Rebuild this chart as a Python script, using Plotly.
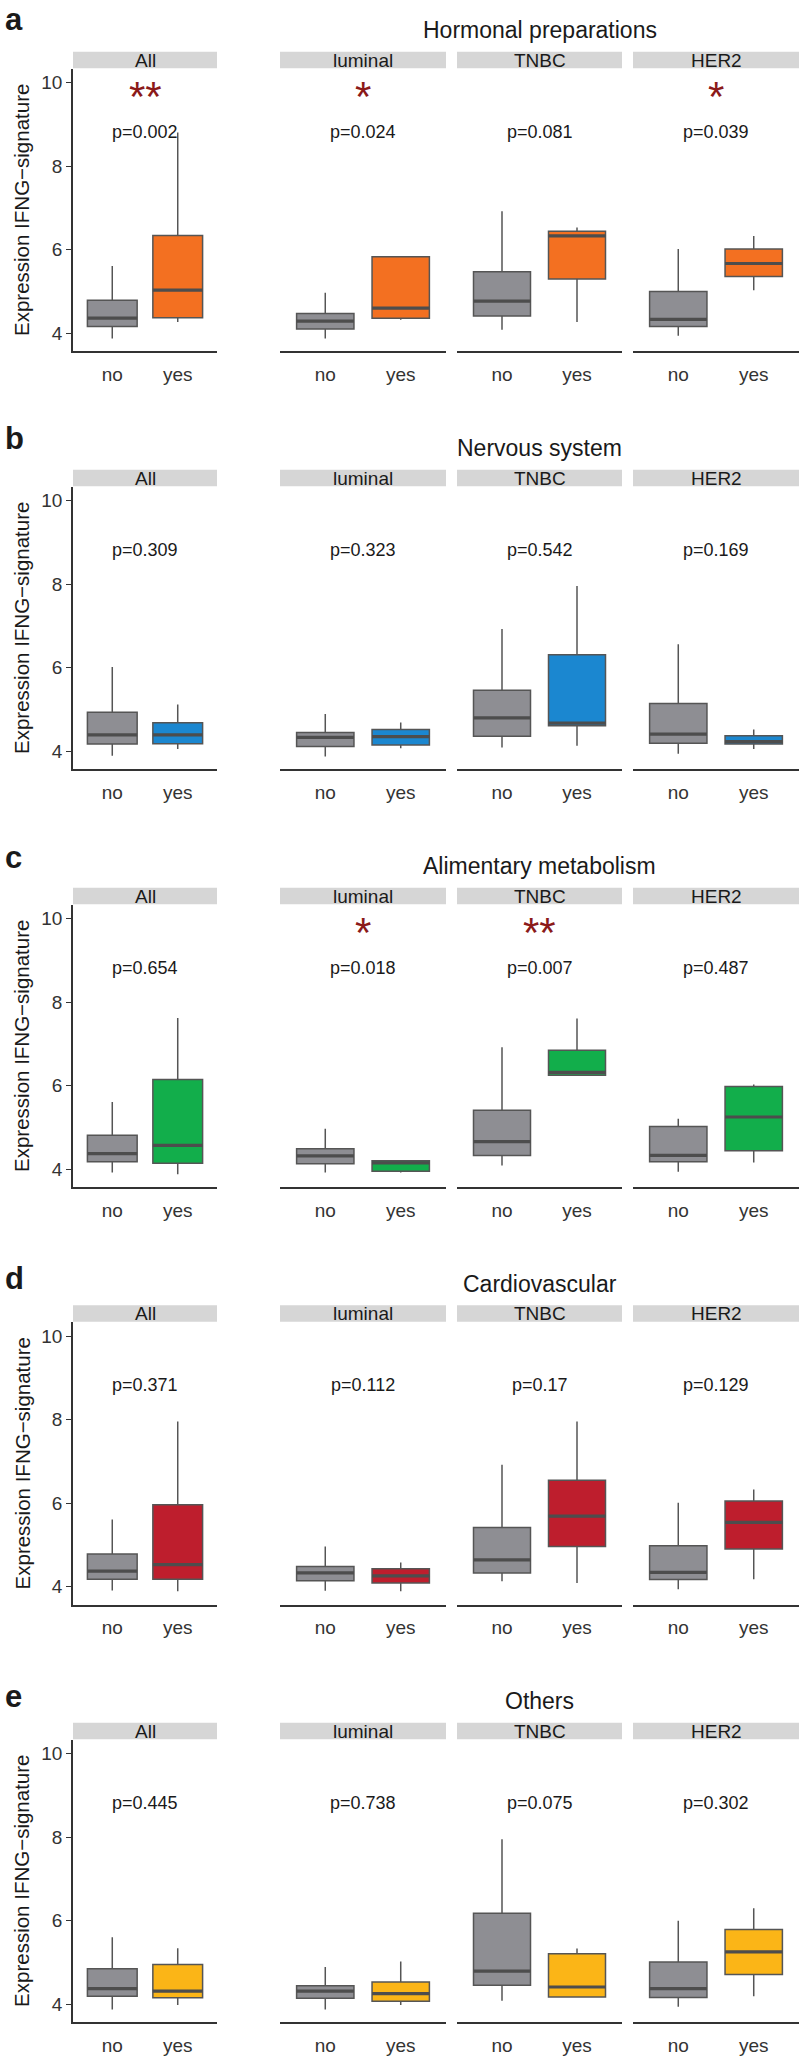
import plotly.graph_objects as go

# ---------------- data ----------------
subtypes = ["All", "luminal", "TNBC", "HER2"]
groups = ["no", "yes"]
panel_titles = ["Hormonal preparations", "Nervous system", "Alimentary metabolism",
                "Cardiovascular", "Others"]
panel_letters = ["a", "b", "c", "d", "e"]
yes_colors = ["#F37021", "#1B87D0", "#12AE4B", "#BE1E2D", "#FBB517"]
no_color = "#8E8E93"

# five-number summaries per subtype: [lower whisker, q1, median, q3, upper whisker]
hormonal_no = [[3.87, 4.16, 4.36, 4.79, 5.61], [3.87, 4.10, 4.29, 4.47, 4.97],
               [4.08, 4.41, 4.77, 5.47, 6.92], [3.94, 4.16, 4.33, 5.00, 6.02]]
hormonal_yes = [[4.27, 4.37, 5.03, 6.34, 8.81], [4.32, 4.36, 4.60, 5.83, 5.83],
                [4.27, 5.30, 6.33, 6.44, 6.53], [5.03, 5.36, 5.67, 6.02, 6.33]]
nervous_no = [[3.89, 4.17, 4.39, 4.93, 6.02], [3.87, 4.11, 4.33, 4.45, 4.89],
              [4.09, 4.36, 4.80, 5.46, 6.93], [3.94, 4.19, 4.41, 5.14, 6.56]]
nervous_yes = [[4.05, 4.18, 4.39, 4.68, 5.12], [4.07, 4.15, 4.35, 4.52, 4.69],
               [4.13, 4.61, 4.67, 6.31, 7.96], [4.05, 4.17, 4.23, 4.37, 4.52]]
alimentary_no = [[3.92, 4.18, 4.37, 4.81, 5.61], [3.92, 4.13, 4.32, 4.49, 4.97],
                 [4.09, 4.33, 4.66, 5.41, 6.92], [3.94, 4.18, 4.33, 5.02, 5.21]]
alimentary_yes = [[3.88, 4.14, 4.57, 6.15, 7.62], [3.92, 3.95, 4.15, 4.20, 4.22],
                  [6.25, 6.25, 6.32, 6.85, 7.61], [4.16, 4.44, 5.25, 5.98, 6.03]]
cardio_no = [[3.91, 4.18, 4.37, 4.78, 5.61], [3.90, 4.14, 4.33, 4.48, 4.96],
             [4.13, 4.33, 4.64, 5.42, 6.92], [3.94, 4.17, 4.34, 4.98, 6.01]]
cardio_yes = [[3.89, 4.18, 4.53, 5.96, 7.96], [3.89, 4.09, 4.26, 4.43, 4.58],
              [4.09, 4.96, 5.69, 6.55, 7.96], [4.18, 4.90, 5.54, 6.05, 6.33]]
others_no = [[3.87, 4.19, 4.37, 4.85, 5.60], [3.87, 4.14, 4.31, 4.44, 4.89],
             [4.08, 4.45, 4.79, 6.18, 7.95], [3.94, 4.16, 4.37, 5.01, 6.00]]
others_yes = [[3.98, 4.15, 4.31, 4.95, 5.34], [3.98, 4.07, 4.25, 4.53, 5.02],
              [4.17, 4.17, 4.41, 5.21, 5.33], [4.19, 4.71, 5.25, 5.79, 6.30]]

p_hormonal = ["0.002", "0.024", "0.081", "0.039"]
p_nervous = ["0.309", "0.323", "0.542", "0.169"]
p_alimentary = ["0.654", "0.018", "0.007", "0.487"]
p_cardio = ["0.371", "0.112", "0.17", "0.129"]
p_others = ["0.445", "0.738", "0.075", "0.302"]

stars_hormonal = ["**", "*", "", "*"]
stars_nervous = ["", "", "", ""]
stars_alimentary = ["", "*", "**", ""]
stars_cardio = ["", "", "", ""]
stars_others = ["", "", "", ""]

ytick_vals = [4, 6, 8, 10]
y_title = "Expression IFNG\u2212signature"

# ---------------- layout helpers ----------------
W, H = 800, 2056
FONT = "Liberation Sans, Arial, sans-serif"
panels = [
    (hormonal_no, hormonal_yes, p_hormonal, stars_hormonal),
    (nervous_no, nervous_yes, p_nervous, stars_nervous),
    (alimentary_no, alimentary_yes, p_alimentary, stars_alimentary),
    (cardio_no, cardio_yes, p_cardio, stars_cardio),
    (others_no, others_yes, p_others, stars_others),
]
offsets = [0, 419, 838, 1256.5, 1675]
letter_y = [20, 440, 860, 1282, 1701]
facet_x = [(73, 217), (280, 446), (457, 622), (633, 799)]
STRIP_TOP, PLOT_TOP, PLOT_BOT = 52, 69, 352
YRANGE = [3.57, 10.335]
BOXW = 0.76
LINE = "#555555"

fig = go.Figure()
layout = dict(width=W, height=H, margin=dict(l=0, r=0, t=0, b=0),
              paper_bgcolor="white", plot_bgcolor="white", showlegend=False,
              font=dict(family=FONT, color="#222222"))
shapes, annotations = [], []

def py(px):
    return 1 - px / H

for i, (nos, yess, pvals, stars) in enumerate(panels):
    off = offsets[i]
    for j, sub in enumerate(subtypes):
        k = i * 4 + j + 1
        xa = "x" if k == 1 else f"x{k}"
        ya = "y" if k == 1 else f"y{k}"
        xkey = "xaxis" if k == 1 else f"xaxis{k}"
        ykey = "yaxis" if k == 1 else f"yaxis{k}"
        x0, x1 = facet_x[j]
        layout[xkey] = dict(domain=[x0 / W, x1 / W], anchor=ya, range=[0.4, 2.6],
                            tickvals=[1, 2], ticktext=groups, showline=True,
                            linecolor="#333333", linewidth=1.5, ticks="outside",
                            ticklen=5, tickcolor="rgba(0,0,0,0)", showgrid=False,
                            zeroline=False, tickfont=dict(size=19, color="#333333"),
                            fixedrange=True)
        ydict = dict(domain=[py(PLOT_BOT + off), py(PLOT_TOP + off)], anchor=xa,
                     range=YRANGE, showgrid=False, zeroline=False, fixedrange=True)
        if j == 0:
            ydict.update(showline=True, linecolor="#333333", linewidth=1.5,
                         ticks="outside", ticklen=5, tickcolor="#333333",
                         tickvals=ytick_vals, tickfont=dict(size=19, color="#333333"))
        else:
            ydict.update(showline=False, showticklabels=False, ticks="")
        layout[ykey] = ydict

        for g, (stat, col) in enumerate([(nos[j], no_color), (yess[j], yes_colors[i])]):
            pos = g + 1
            fig.add_trace(go.Box(x=[pos], lowerfence=[stat[0]], q1=[stat[1]],
                                 median=[stat[2]], q3=[stat[3]], upperfence=[stat[4]],
                                 width=BOXW, fillcolor=col, whiskerwidth=0,
                                 line=dict(color=LINE, width=1.5), boxpoints=False,
                                 xaxis=xa, yaxis=ya, hoverinfo="skip"))
            fig.add_trace(go.Scatter(x=[pos - BOXW / 2, pos + BOXW / 2],
                                     y=[stat[2], stat[2]], mode="lines",
                                     line=dict(color="#4D4D4D", width=3.2),
                                     xaxis=xa, yaxis=ya, hoverinfo="skip"))

        # strip
        shapes.append(dict(type="rect", xref="paper", yref="paper",
                           x0=x0 / W, x1=x1 / W, y0=py(PLOT_TOP + off - 0.5),
                           y1=py(STRIP_TOP + off), fillcolor="#D6D6D6",
                           line=dict(width=0), layer="below"))
        annotations.append(dict(text=sub, xref="paper", yref="paper",
                                x=(x0 + x1) / 2 / W, y=py((STRIP_TOP + PLOT_TOP) / 2 + off),
                                showarrow=False, font=dict(size=19, color="#1a1a1a"),
                                xanchor="center", yanchor="middle"))
        # p-value and stars
        annotations.append(dict(text=f"p={pvals[j]}", xref=xa, yref=ya, x=1.5, y=8.82,
                                showarrow=False, font=dict(size=18, color="#1a1a1a"),
                                xanchor="center", yanchor="middle"))
        if stars[j]:
            annotations.append(dict(text=stars[j], xref=xa, yref=ya, x=1.5, y=9.68,
                                    showarrow=False,
                                    font=dict(size=42, color="#8B1A1A", family=FONT),
                                    xanchor="center", yanchor="middle"))

    # panel title, letter, y title
    annotations.append(dict(text=panel_titles[i], xref="paper", yref="paper",
                            x=539.5 / W, y=py(30.5 + off), showarrow=False,
                            font=dict(size=23, color="#1a1a1a"),
                            xanchor="center", yanchor="middle"))
    annotations.append(dict(text=f"<b>{panel_letters[i]}</b>", xref="paper", yref="paper",
                            x=3 / W, y=py(letter_y[i]), showarrow=False,
                            font=dict(size=31, color="#1a1a1a"),
                            xanchor="left", yanchor="middle"))
    annotations.append(dict(text=y_title, xref="paper", yref="paper",
                            x=22 / W, y=py((PLOT_TOP + PLOT_BOT) / 2 + off),
                            showarrow=False, textangle=-90,
                            font=dict(size=20.5, color="#1a1a1a"),
                            xanchor="center", yanchor="middle"))

layout["shapes"] = shapes
layout["annotations"] = annotations
fig.update_layout(**layout)

fig.write_html("out.html", config={"displayModeBar": False},
               post_script="document.body.style.margin='0';")
